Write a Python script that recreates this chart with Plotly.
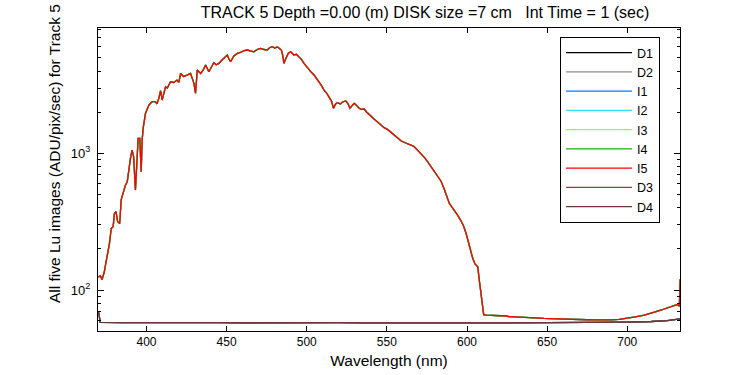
import plotly.graph_objects as go

# ---- data ----
wavelength_nm = [
    370.0, 371.2, 372.3, 373.7, 374.8, 375.8, 376.9, 378.0, 379.2, 380.0,
    381.0, 382.0, 383.3, 384.2, 385.2, 386.9, 388.0, 389.0, 390.0, 391.0,
    392.0, 393.1, 394.0, 394.8, 395.8, 396.7, 397.3, 398.0, 399.4, 400.5,
    401.5, 403.5, 405.6, 406.5, 407.7, 408.8, 409.8, 411.9, 413.0, 415.0,
    417.0, 419.0, 420.2, 421.3, 423.0, 425.4, 427.5, 429.6, 430.6, 431.7,
    433.8, 435.5, 436.9, 438.9, 440.5, 442.0, 443.5, 445.2, 447.0, 448.3,
    450.4, 451.5, 452.5, 454.5, 456.7, 459.0, 461.0, 462.9, 465.0, 467.0,
    469.0, 471.3, 473.5, 475.4, 477.0, 478.6, 480.0, 481.7, 483.0, 484.2,
    485.0, 485.8, 486.5, 487.5, 488.5, 490.0, 492.0, 493.5, 495.2, 496.8,
    498.3, 500.0, 501.4, 503.0, 504.6, 506.0, 507.7, 509.0, 510.8, 512.5,
    514.0, 515.5, 516.7, 518.0, 519.2, 521.0, 522.5, 524.4, 525.8, 527.0,
    528.5, 529.6, 531.0, 532.7, 534.0, 535.8, 537.5, 539.0, 540.5, 542.0,
    544.0, 546.3, 548.3, 550.4, 552.5, 554.5, 556.5, 558.8, 561.0, 562.9,
    565.0, 567.0, 569.0, 571.3, 573.5, 575.4, 577.5, 579.6, 581.5, 583.8,
    585.8, 587.5, 589.0, 590.5, 592.0, 594.0, 596.0, 597.8, 599.4, 600.5,
    601.4, 602.5, 603.6, 605.0, 606.7, 607.7, 608.8, 609.6, 610.4, 612.0,
    615.0, 618.0, 621.0, 623.0, 626.0, 630.0, 635.0, 640.0, 644.0, 648.0,
    652.0, 656.0, 660.0, 665.0, 670.0, 675.0, 680.0, 685.6, 690.0, 695.0,
    700.4, 705.0, 710.6, 715.0, 718.0, 721.3, 724.0, 727.5, 730.0, 731.7,
    732.5, 733.0,
]
lu_illuminated = [
    124, 127, 119, 136, 161, 185, 219, 282, 291, 363,
    374, 316, 307, 456, 510, 586, 620, 776, 919, 1057,
    944, 539, 1000, 1288, 1288, 733, 1250, 1550, 1963, 2100,
    2256, 2387, 2387, 2300, 2525, 2870, 2456, 3070, 3000, 3340,
    3300, 3435, 3300, 3845, 3650, 3740, 3845, 3250, 2755, 4075,
    3845, 4100, 4430, 3955, 4300, 4600, 4450, 4550, 4800, 4955,
    5240, 4900, 4680, 5150, 5380, 5500, 5650, 5700, 5600, 5530,
    5750, 5860, 5750, 5700, 5950, 6030, 5900, 5990, 5850, 5700,
    5200, 4550, 4800, 5090, 5400, 5530, 5240, 5300, 5090, 4850,
    4550, 4300, 4075, 3900, 3740, 3550, 3340, 3150, 2900, 2750,
    2570, 2400, 2135, 2300, 2345, 2300, 2380, 2415, 2300, 2135,
    2250, 2323, 2250, 2135, 2100, 2110, 2000, 1907, 1850, 1780,
    1700, 1612, 1540, 1497, 1430, 1350, 1290, 1236, 1200, 1183,
    1150, 1119, 1060, 1000, 930, 868, 800, 733, 680, 625,
    545, 470, 430, 405, 385, 355, 325, 295, 260, 230,
    208, 185, 170, 155, 148, 117, 95, 75, 66, 65.5,
    65.0, 65.3, 64.8, 65.0, 64.0, 63.6, 63.0, 62.5, 62.3, 62.0,
    61.8, 61.5, 61.5, 61.3, 61.0, 60.6, 60.5, 60.3, 60.5, 61.0,
    62.0, 63.5, 65.6, 67.5, 69.5, 71.4, 73.5, 76.4, 77.5, 77.7,
    76.0, 120,
]
dark_wavelength_nm = [
    370.0, 370.6, 371.2, 385.0, 400.0, 415.0, 430.0, 445.0, 460.0, 475.0,
    490.0, 505.0, 520.0, 535.0, 550.0, 565.0, 580.0, 595.0, 610.0, 625.0,
    640.0, 655.0, 670.0, 685.0, 700.0, 715.0, 725.0, 733.0,
]
lu_dark = [
    70.0, 62.0, 58.0, 57.8, 57.6, 57.9, 57.5, 57.7, 57.6, 57.8,
    57.5, 57.6, 57.7, 57.5, 57.6, 57.4, 57.5, 57.6, 57.5, 57.4,
    57.5, 57.6, 57.7, 57.8, 58.2, 58.8, 59.6, 61.5,
]

series_names = ["D1", "D2", "I1", "I2", "I3", "I4", "I5", "D3", "D4"]
series_colors = ["#000000", "#8c8c8c", "#0a7cff", "#2ee6ff", "#7dff7d",
                 "#14b014", "#ff0000", "#7f4646", "#6b3838"]

x_tick_values = [400, 450, 500, 550, 600, 650, 700]
y_tick_values = [100, 1000]
y_tick_labels = ["10<sup>2</sup>", "10<sup>3</sup>"]
y_minor_values = [60, 70, 80, 90, 200, 300, 400, 500, 600, 700, 800, 900,
                  2000, 3000, 4000, 5000, 6000, 7000, 8000]

FONT = "Liberation Sans, Arial, sans-serif"

fig = go.Figure()
for name, color in zip(series_names, series_colors):
    if name.startswith("D"):
        xs, ys = dark_wavelength_nm, lu_dark
    else:
        xs, ys = wavelength_nm, lu_illuminated
    fig.add_trace(go.Scatter(x=xs, y=ys, mode="lines", name=name,
                             line=dict(color=color, width=1.3)))

fig.update_layout(
    width=750, height=375,
    margin=dict(l=98, r=70, t=28, b=44, autoexpand=False),
    paper_bgcolor="white", plot_bgcolor="white",
    font=dict(family=FONT, size=12, color="black"),
    title=dict(text="TRACK 5 Depth =0.00 (m) DISK size =7 cm&nbsp;&nbsp; Int Time = 1 (sec)",
               x=425 / 750, xref="container", xanchor="center",
               y=1 - 12 / 375, yref="container", yanchor="middle",
               font=dict(size=16, family=FONT, color="black")),
    xaxis=dict(range=[369.75, 732.9], tickvals=x_tick_values,
               ticks="inside", ticklen=5, tickcolor="black",
               showline=True, linecolor="black", linewidth=1, mirror="ticks",
               showgrid=False, zeroline=False,
               tickfont=dict(size=12),
               title=dict(text="Wavelength (nm)", font=dict(size=15.5), standoff=6)),
    yaxis=dict(type="log", range=[1.70, 3.917],
               tickvals=y_tick_values, ticktext=y_tick_labels,
               ticks="inside", ticklen=6, tickcolor="black",
               ticklabelstandoff=4,
               minor=dict(tickvals=y_minor_values, ticks="inside", ticklen=3,
                          tickcolor="black", showgrid=False),
               showline=True, linecolor="black", linewidth=1, mirror="ticks",
               showgrid=False, zeroline=False,
               tickfont=dict(size=13)),
    legend=dict(x=(660 - 98) / 582, xref="paper", xanchor="right",
                y=1 - (37 - 28) / 303, yref="paper", yanchor="top",
                bordercolor="black", borderwidth=1, bgcolor="white",
                font=dict(size=12.5), itemwidth=66, tracegroupgap=0),
    annotations=[dict(text="All five Lu images (ADU/pix/sec) for Track 5",
                      textangle=-90, showarrow=False,
                      xref="paper", x=(54 - 98) / 582, xanchor="center",
                      yref="paper", y=(331 - 154) / 303, yanchor="middle",
                      font=dict(size=15.5, family=FONT, color="black"))],
)

fig.write_html("out.html", config={"displayModeBar": False},
               post_script="document.body.style.margin='0px';")
